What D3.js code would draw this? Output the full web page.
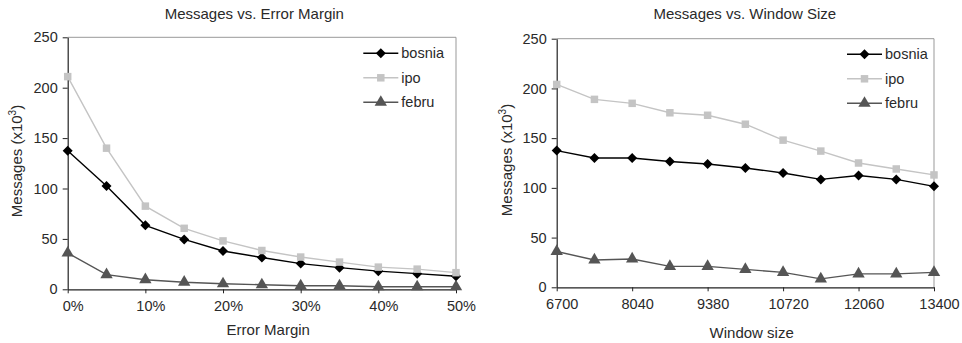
<!DOCTYPE html>
<html>
<head>
<meta charset="utf-8">
<script src="https://cdn.jsdelivr.net/npm/d3@7"></script>
<style>
  html, body { margin: 0; padding: 0; background: #fff; }
  svg { display: block; }
  text { font-family: "Liberation Sans", Arial, Helvetica, sans-serif; fill: #2a2a2a; }
</style>
</head>
<body>
<svg id="chart" width="962" height="343"></svg>
<script>
// error margin chart (x in %)
var marginX = [0, 5, 10, 15, 20, 25, 30, 35, 40, 45, 50];
var marginTicks = [0, 10, 20, 30, 40, 50];
var marginBosnia = [137.5, 102.5, 63.5, 49.5, 38, 31.5, 25.5, 21.5, 18, 15.5, 13];
var marginIpo = [211, 140, 82.5, 60.5, 48, 38.5, 32, 27, 22, 20, 16.5];
var marginFebru = [36, 14.5, 9.5, 7, 5.5, 4.5, 3.5, 3.5, 2.5, 2.5, 2.5];

// window size chart
var windowX = [6700, 7370, 8040, 8710, 9380, 10050, 10720, 11390, 12060, 12730, 13400];
var windowTicks = [6700, 8040, 9380, 10720, 12060, 13400];
var windowBosnia = [137.5, 130, 130, 126.5, 124, 120, 115, 108.5, 112.5, 108.5, 101.5];
var windowIpo = [204, 189, 185, 175.5, 173, 164, 148, 137, 125, 119, 113];
var windowFebru = [36, 27.5, 28.5, 21, 21, 18, 15, 8.5, 13.5, 13.5, 15];

var yTicks = [0, 50, 100, 150, 200, 250];
var seriesNames = ['bosnia', 'ipo', 'febru'];

(function() {
    'use strict';

    var svg = d3.select('#chart');

    // diamond drawn as a square turned 45deg (d3's diamond is too tall)
    var styles = {
        bosnia: { color: '#000000', symbol: d3.symbolSquare, size: 50, rot: 45 },
        ipo: { color: '#c4c4c4', symbol: d3.symbolSquare, size: 56, rot: 0 },
        febru: { color: '#555555', symbol: d3.symbolTriangle, size: 66, rot: 0 }
    };

    function drawChart(opts) {
        var g = svg.append('g');

        var x = d3.scaleLinear()
            .domain(d3.extent(opts.xs))
            .range([opts.left, opts.right]);
        var y = d3.scaleLinear()
            .domain([0, 250])
            .range([opts.bottom, opts.top]);

        // top/right frame
        g.append('path')
            .attr('d', 'M' + opts.left + ',' + opts.top + 'H' + opts.right + 'V' + opts.bottom)
            .attr('fill', 'none')
            .attr('stroke', '#999')
            .attr('stroke-width', 1);

        var yAxis = g.append('g')
            .attr('transform', 'translate(' + opts.left + ',0)')
            .call(d3.axisLeft(y).tickValues(yTicks).tickSize(5).tickSizeOuter(0).tickPadding(5));

        var xAxis = g.append('g')
            .attr('transform', 'translate(0,' + opts.bottom + ')')
            .call(d3.axisBottom(x).tickValues(opts.ticks).tickSize(4).tickSizeOuter(0)
                .tickPadding(7).tickFormat(opts.fmt));

        [yAxis, xAxis].forEach(function(ax) {
            ax.select('.domain').attr('stroke', '#222').attr('stroke-width', 1.2);
            ax.selectAll('.tick line').attr('stroke', '#222');
            ax.selectAll('.tick text')
                .attr('fill', '#2a2a2a')
                .style('font-size', '14.5px')
                .style('font-family', '"Liberation Sans", Arial, sans-serif');
        });
        xAxis.selectAll('.tick text').attr('dx', 5);

        var line = d3.line()
            .x(function(d) { return x(d[0]); })
            .y(function(d) { return y(d[1]); });

        seriesNames.forEach(function(name) {
            var st = styles[name];
            var pts = opts.xs.map(function(v, i) { return [v, opts.series[name][i]]; });
            g.append('path')
                .datum(pts)
                .attr('d', line)
                .attr('fill', 'none')
                .attr('stroke', st.color)
                .attr('stroke-width', 1.4);
            g.selectAll(null)
                .data(pts)
                .enter()
                .append('path')
                .attr('d', d3.symbol().type(st.symbol).size(st.size))
                .attr('transform', function(d) {
                    return 'translate(' + x(d[0]) + ',' + y(d[1]) + ') rotate(' + st.rot + ')';
                })
                .attr('fill', st.color);
        });

        // legend
        seriesNames.forEach(function(name, i) {
            var st = styles[name];
            var ly = opts.legendY + i * 24.5;
            g.append('line')
                .attr('x1', opts.legendX).attr('x2', opts.legendX + 35)
                .attr('y1', ly).attr('y2', ly)
                .attr('stroke', st.color).attr('stroke-width', 1.4);
            g.append('path')
                .attr('d', d3.symbol().type(st.symbol).size(st.size))
                .attr('transform', 'translate(' + (opts.legendX + 17.5) + ',' + ly + ') rotate(' + st.rot + ')')
                .attr('fill', st.color);
            g.append('text')
                .attr('x', opts.legendX + 38)
                .attr('y', ly + 5)
                .style('font-size', '14.5px')
                .text(name);
        });

        // titles
        g.append('text')
            .attr('x', opts.titleX).attr('y', 19)
            .attr('text-anchor', 'middle')
            .style('font-size', '15px')
            .text(opts.title);

        g.append('text')
            .attr('x', opts.xLabelX).attr('y', opts.xLabelY)
            .attr('text-anchor', 'middle')
            .style('font-size', '15px')
            .text(opts.xLabel);

        var yl = g.append('text')
            .attr('transform', 'translate(' + opts.yLabelX + ',' + opts.yLabelY + ') rotate(-90)')
            .attr('text-anchor', 'middle')
            .style('font-size', '15px');
        yl.append('tspan').text('Messages (x10');
        yl.append('tspan').attr('dy', -6).style('font-size', '10px').text('3');
        yl.append('tspan').attr('dy', 6).text(')');
    }

    drawChart({
        xs: marginX, ticks: marginTicks,
        fmt: function(d) { return d + '%'; },
        series: { bosnia: marginBosnia, ipo: marginIpo, febru: marginFebru },
        left: 67.7, right: 456, top: 37.3, bottom: 289.3,
        legendX: 363.3, legendY: 53.3,
        title: 'Messages vs. Error Margin', titleX: 254.3,
        xLabel: 'Error Margin', xLabelX: 268.3, xLabelY: 334.5,
        yLabelX: 22, yLabelY: 161
    });

    drawChart({
        xs: windowX, ticks: windowTicks,
        fmt: function(d) { return String(d); },
        series: { bosnia: windowBosnia, ipo: windowIpo, febru: windowFebru },
        left: 556.7, right: 934, top: 38.7, bottom: 287.3,
        legendX: 847, legendY: 54.3,
        title: 'Messages vs. Window Size', titleX: 744.8,
        xLabel: 'Window size', xLabelX: 751.7, xLabelY: 337.5,
        yLabelX: 512, yLabelY: 160
    });
})();
</script>
</body>
</html>
